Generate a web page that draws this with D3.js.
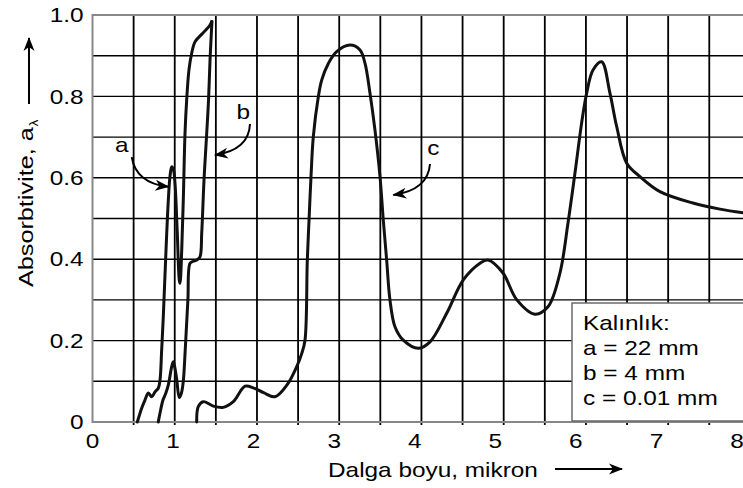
<!DOCTYPE html>
<html>
<head>
<meta charset="utf-8">
<style>
  body { margin: 0; background: #fff; }
  svg { display: block; font-family: "Liberation Sans", Arial, sans-serif; font-size: 21px; }
  .curve { fill: none; stroke: #111; stroke-width: 3; stroke-linejoin: round; stroke-linecap: round; }
  .pointer { fill: none; stroke: #000; stroke-width: 2; }
</style>
</head>
<body>
<svg width="743" height="488"></svg>
<script src="https://d3js.org/d3.v7.min.js"></script>
<script>

// [wavelength (micron), absorptivity]
var curveA = [[0.545,0],[0.60,0.035],[0.638,0.054],[0.679,0.071],[0.72,0.062],[0.76,0.074],[0.80,0.083],
  [0.821,0.103],[0.841,0.177],[0.861,0.259],[0.894,0.423],[0.922,0.545],[0.942,0.603],[0.963,0.627],
  [0.985,0.619],[1.003,0.587],[1.031,0.464],[1.055,0.349],[1.064,0.341],[1.085,0.423],[1.104,0.545],
  [1.125,0.71],[1.145,0.791],[1.173,0.865],[1.206,0.906],[1.246,0.934],[1.33,0.953],[1.429,0.975],[1.449,0.984]];

var curveB = [[0.80,0],[0.821,0.022],[0.857,0.054],[0.89,0.07],[0.922,0.091],[0.963,0.136],[0.982,0.148],
  [1.0,0.135],[1.024,0.105],[1.055,0.06],[1.08,0.07],[1.104,0.1],[1.127,0.175],[1.16,0.3],[1.186,0.39],
  [1.225,0.395],[1.267,0.398],[1.307,0.406],[1.328,0.464],[1.356,0.595],[1.389,0.71],[1.411,0.791],
  [1.429,0.889],[1.447,0.963],[1.453,0.984]];

var curveC = [[1.267,0],[1.286,0.038],[1.347,0.05],[1.469,0.039],[1.59,0.036],[1.712,0.05],[1.855,0.088],
  [1.955,0.084],[2.08,0.072],[2.219,0.062],[2.365,0.091],[2.483,0.136],[2.544,0.168],[2.584,0.201],
  [2.612,0.398],[2.633,0.496],[2.657,0.603],[2.685,0.701],[2.746,0.799],[2.787,0.84],[2.868,0.881],
  [2.969,0.91],[3.131,0.926],[3.253,0.914],[3.314,0.881],[3.374,0.808],[3.435,0.717],[3.496,0.603],
  [3.536,0.496],[3.577,0.398],[3.617,0.3],[3.678,0.234],[3.779,0.201],[3.962,0.181],[4.104,0.197],
  [4.307,0.267],[4.509,0.349],[4.712,0.39],[4.809,0.398],[4.991,0.366],[5.16,0.3],[5.38,0.265],
  [5.538,0.283],[5.684,0.366],[5.782,0.489],[5.867,0.612],[5.948,0.735],[6.009,0.808],[6.086,0.865],
  [6.191,0.885],[6.292,0.808],[6.374,0.726],[6.496,0.636],[6.657,0.603],[6.9,0.566],[7.301,0.538],
  [7.63,0.523],[7.95,0.513]];

var xTicks = [0, 1, 2, 3, 4, 5, 6, 7, 8];
var yTicks = [0, 0.2, 0.4, 0.6, 0.8, 1.0];
var xGrid = d3.range(1, 17).map(function(i) { return i * 0.5; });
var yGrid = d3.range(1, 10).map(function(i) { return i * 0.1; });

var legendLines = ["Kalınlık:", "a = 22 mm", "b = 4 mm", "c = 0.01 mm"];

// curve labels: text spot, pointer start, bend, tip (data units)
var pointers = [
  {name: "a", text: [0.355, 0.663], path: [[0.477, 0.651], [0.529, 0.587], [0.922, 0.578]]},
  {name: "b", text: [1.834, 0.744], path: [[1.915, 0.732], [1.903, 0.668], [1.489, 0.656]]},
  {name: "c", text: [4.144, 0.656], path: [[4.104, 0.634], [4.08, 0.57], [3.658, 0.558]]}
];

var svg = d3.select("svg");

var x = d3.scaleLinear().domain([0, 8]).range([92.5, 750.4]),
    xLab = d3.scaleLinear().domain([0, 8]).range([92, 736.5]),
    y = d3.scaleLinear().domain([0, 1]).range([422, 15]);

function stretch(sel, k) {
  sel.each(function() {
    var w = this.getComputedTextLength();
    d3.select(this).attr("textLength", w * k).attr("lengthAdjust", "spacingAndGlyphs");
  });
}

var defs = svg.append("defs");
defs.append("marker")
    .attr("id", "head")
    .attr("viewBox", "0 -6 14 12")
    .attr("refX", 13)
    .attr("refY", 0)
    .attr("markerWidth", 14)
    .attr("markerHeight", 12)
    .attr("markerUnits", "userSpaceOnUse")
    .attr("orient", "auto")
  .append("path")
    .attr("d", "M0,-5.5L14,0L0,5.5L4,0Z")
    .attr("fill", "#000");

// grid
svg.append("g").selectAll("line")
  .data(yGrid)
  .enter().append("line")
    .attr("x1", x(0)).attr("x2", 743)
    .attr("y1", function(d) { return y(d); })
    .attr("y2", function(d) { return y(d); })
    .attr("stroke", "#000")
    .attr("stroke-width", 1.4);

svg.append("g").selectAll("line")
  .data(xGrid)
  .enter().append("line")
    .attr("x1", function(d) { return x(d); })
    .attr("x2", function(d) { return x(d); })
    .attr("y1", y(1)).attr("y2", y(0) + 3)
    .attr("stroke", "#000")
    .attr("stroke-width", 1.8);

// frame
svg.append("path")
    .attr("d", "M743," + y(1) + "H" + x(0) + "V" + y(0) + "H743")
    .attr("fill", "none")
    .attr("stroke", "#888")
    .attr("stroke-width", 2);

// legend box
var box = svg.append("g").attr("transform", "translate(572," + (y(0) - 119) + ")");
box.append("rect")
    .attr("width", 200)
    .attr("height", 118)
    .attr("fill", "#fff")
    .attr("stroke", "#6a6a6a")
    .attr("stroke-width", 1.5);
box.selectAll("text")
  .data(legendLines)
  .enter().append("text")
    .attr("x", 11)
    .attr("y", function(d, i) { return 27 + i * 25; })
    .text(function(d) { return d; })
    .call(stretch, 1.16);

// axes labels
var xAxis = svg.append("g")
    .attr("transform", "translate(0," + y(0) + ")")
    .call(d3.axisBottom(xLab).tickValues(xTicks).tickSize(0).tickPadding(11));
xAxis.select(".domain").remove();
xAxis.selectAll("text").attr("font-size", 21).attr("font-family", "Liberation Sans, Arial, sans-serif")
    .attr("fill", "#000").call(stretch, 1.16);

var yAxis = svg.append("g")
    .attr("transform", "translate(" + x(0) + ",0)")
    .call(d3.axisLeft(y).tickValues(yTicks).tickSize(0).tickPadding(9)
      .tickFormat(function(d) { return d === 0 ? "0" : d3.format(".1f")(d); }));
yAxis.select(".domain").remove();
yAxis.selectAll("text").attr("font-size", 21).attr("font-family", "Liberation Sans, Arial, sans-serif")
    .attr("fill", "#000").call(stretch, 1.16);

// curves
var line = d3.line()
    .x(function(d) { return x(d[0]); })
    .y(function(d) { return y(d[1]); })
    .curve(d3.curveCatmullRom.alpha(0.5));

[curveA, curveB, curveC].forEach(function(c) {
  svg.append("path").attr("class", "curve").attr("d", line(c));
});

// curve pointers
pointers.forEach(function(p) {
  svg.append("text")
      .attr("x", x(p.text[0]))
      .attr("y", y(p.text[1]))
      .attr("text-anchor", "middle")
      .text(p.name)
      .call(stretch, 1.16);
  var s = p.path[0], c = p.path[1], e = p.path[2];
  svg.append("path")
      .attr("class", "pointer")
      .attr("d", "M" + x(s[0]) + "," + y(s[1]) + "Q" + x(c[0]) + "," + y(c[1]) + " " + x(e[0]) + "," + y(e[1]))
      .attr("marker-end", "url(#head)");
});

// axis titles
var yTitle = svg.append("g").attr("transform", "translate(33,287) rotate(-90)");
var yt = yTitle.append("text").text("Absorbtivite, a").call(stretch, 1.2);
var tl = +yt.attr("textLength");
yTitle.append("text")
    .attr("x", tl + 1)
    .attr("y", 5)
    .attr("font-size", 13)
    .text("λ");

svg.append("line")
    .attr("x1", 29).attr("x2", 29)
    .attr("y1", 104).attr("y2", 38)
    .attr("stroke", "#000").attr("stroke-width", 2)
    .attr("marker-end", "url(#head)");

svg.append("text")
    .attr("x", 328)
    .attr("y", 477)
    .text("Dalga boyu, mikron")
    .call(stretch, 1.16);

svg.append("line")
    .attr("x1", 555).attr("x2", 622)
    .attr("y1", 469).attr("y2", 469)
    .attr("stroke", "#000").attr("stroke-width", 2)
    .attr("marker-end", "url(#head)");

</script>
</body>
</html>
